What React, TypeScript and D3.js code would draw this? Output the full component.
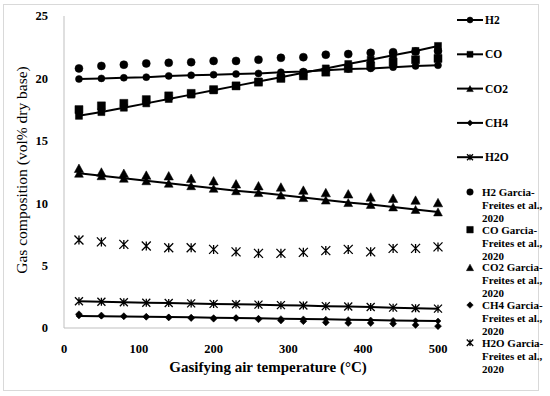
import React from 'react';
import * as d3 from 'd3';

// gasifying air temperature (°C)
const temps = [20, 50, 80, 110, 140, 170, 200, 230, 260, 290, 320, 350, 380, 410, 440, 470, 500];

// model curves (vol% dry base)
const h2Model = [19.95, 20.0, 20.05, 20.1, 20.2, 20.25, 20.3, 20.35, 20.4, 20.5, 20.55, 20.65, 20.75, 20.8, 20.9, 21.0, 21.05];
const coModel = [17.0, 17.3, 17.65, 18.0, 18.35, 18.7, 19.05, 19.4, 19.75, 20.1, 20.45, 20.8, 21.15, 21.5, 21.85, 22.2, 22.6];
const co2Model = [12.4, 12.2, 12.0, 11.8, 11.6, 11.4, 11.2, 11.0, 10.85, 10.65, 10.45, 10.25, 10.05, 9.9, 9.7, 9.5, 9.3];
const ch4Model = [0.97, 0.95, 0.93, 0.9, 0.88, 0.86, 0.83, 0.8, 0.78, 0.75, 0.73, 0.7, 0.67, 0.64, 0.61, 0.58, 0.56];
const h2oModel = [2.15, 2.1, 2.07, 2.03, 2.0, 1.97, 1.93, 1.9, 1.87, 1.83, 1.8, 1.75, 1.72, 1.68, 1.63, 1.58, 1.55];

// Garcia-Freites et al., 2020
const h2Ref = [20.8, 21.0, 21.1, 21.2, 21.25, 21.3, 21.4, 21.4, 21.5, 21.65, 21.7, 21.9, 21.95, 22.05, 22.1, 22.15, 22.2];
const coRef = [17.5, 17.8, 18.0, 18.3, 18.6, 18.8, 19.1, 19.4, 19.7, 20.0, 20.2, 20.5, 20.8, 21.0, 21.3, 21.5, 21.6];
const co2Ref = [12.8, 12.5, 12.4, 12.25, 12.2, 12.0, 11.8, 11.55, 11.4, 11.3, 11.05, 10.85, 10.75, 10.5, 10.4, 10.25, 10.05];
const ch4Ref = [1.1, 1.0, 0.95, 0.9, 0.85, 0.8, 0.75, 0.8, 0.7, 0.6, 0.55, 0.45, 0.4, 0.4, 0.35, 0.25, 0.15];
const h2oRef = [7.05, 6.9, 6.7, 6.57, 6.43, 6.43, 6.3, 6.1, 5.98, 5.98, 6.06, 6.2, 6.3, 6.1, 6.38, 6.38, 6.5];

const seriesNames = ['H2', 'CO', 'CO2', 'CH4', 'H2O'];
const markerKinds = ['circle', 'square', 'triangle', 'diamond', 'star'];
const xTicks = [0, 100, 200, 300, 400, 500];
const yTicks = [0, 5, 10, 15, 20, 25];

const models = [h2Model, coModel, co2Model, ch4Model, h2oModel];
const refs = [h2Ref, coRef, co2Ref, ch4Ref, h2oRef];

const W = 550;
const H = 396;
const x = d3.scaleLinear().domain([0, 500]).range([64, 438]);
const y = d3.scaleLinear().domain([0, 25]).range([328, 16]);

const font = '"Liberation Serif", "Times New Roman", serif';

function markerPath(kind: string, s: number) {
  const h = s / 2;
  if (kind === 'circle') return d3.symbol(d3.symbolCircle, Math.PI * h * h)() as string;
  if (kind === 'square') return `M${-h},${-h}H${h}V${h}H${-h}Z`;
  if (kind === 'triangle') return `M0,${-h}L${h * 1.1},${h}L${-h * 1.1},${h}Z`;
  if (kind === 'diamond') return `M0,${-h}L${h},0L0,${h}L${-h},0Z`;
  // excel star: X plus vertical bar
  return `M${-h},${-h}L${h},${h}M${-h},${h}L${h},${-h}M0,${-h}L0,${h}`;
}

function Marker({ kind, cx, cy, s }: { kind: string; cx: number; cy: number; s: number }) {
  const isStar = kind === 'star';
  return (
    <path
      d={markerPath(kind, s)}
      transform={`translate(${cx},${cy})`}
      fill={isStar ? 'none' : '#000'}
      stroke="#000"
      strokeWidth={isStar ? 1.3 : 0.5}
    />
  );
}

const line = d3.line<number>().x((_, i) => x(temps[i])).y((d) => y(d));

const modelSize = [7, 7, 8, 6, 8];
const refSize = [8, 8, 8.5, 7, 9];

export default function App() {
  return (
    <div style={{ position: 'absolute', left: 0, top: 0 }}>
      <svg width={W} height={H} style={{ display: 'block', background: '#fff' }}>
        <rect x={3.5} y={4.5} width={535} height={386} fill="#fff" stroke="#d9d9d9" />
        {/* axes */}
        <line x1={x(0)} x2={x(0)} y1={y(0)} y2={y(25)} stroke="#bfbfbf" />
        <line x1={x(0)} x2={x(500)} y1={y(0)} y2={y(0)} stroke="#bfbfbf" />
        {yTicks.map((t) => (
          <text key={t} x={48} y={y(t)} dy="0.35em" textAnchor="end" fontFamily={font} fontWeight="bold" fontSize={12.5}>
            {t}
          </text>
        ))}
        {xTicks.map((t) => (
          <text key={t} x={x(t)} y={349} dy="0.35em" textAnchor="middle" fontFamily={font} fontWeight="bold" fontSize={12.5}>
            {t}
          </text>
        ))}
        <text x={268} y={367} dy="0.35em" textAnchor="middle" fontFamily={font} fontWeight="bold" fontSize={15}>
          Gasifying air temperature (°C)
        </text>
        <text transform={`translate(22,${170}) rotate(-90)`} dy="0.35em" textAnchor="middle" fontFamily={font} fontSize={15.5}>
          Gas composition (vol% dry base)
        </text>

        {/* reference data */}
        {refs.map((vals, si) =>
          vals.map((v, i) => (
            <Marker key={`r${si}-${i}`} kind={markerKinds[si]} cx={x(temps[i])} cy={y(v)} s={refSize[si]} />
          ))
        )}
        {/* model curves */}
        {models.map((vals, si) => (
          <g key={`m${si}`}>
            <path d={line(vals) as string} fill="none" stroke="#000" strokeWidth={2} />
            {vals.map((v, i) => (
              <Marker key={i} kind={markerKinds[si]} cx={x(temps[i])} cy={y(v)} s={modelSize[si]} />
            ))}
          </g>
        ))}

        {/* legend */}
        {seriesNames.map((n, i) => {
          const ly = 20 + i * 34.3;
          return (
            <g key={`lm${i}`}>
              <line x1={457} x2={483} y1={ly} y2={ly} stroke="#000" strokeWidth={2} />
              <Marker kind={markerKinds[i]} cx={470} cy={ly} s={6} />
              <text x={485} y={ly} dy="0.35em" fontFamily={font} fontWeight="bold" fontSize={11.5}>
                {n}
              </text>
            </g>
          );
        })}
        {seriesNames.map((n, i) => {
          const ly = 192 + i * 37.7;
          return (
            <g key={`lr${i}`}>
              <Marker kind={markerKinds[i]} cx={470} cy={ly} s={6.5} />
              {[`${n} Garcia-`, 'Freites et al.,', '2020'].map((t, k) => (
                <text key={k} x={482} y={ly + k * 13} dy="0.35em" fontFamily={font} fontWeight="bold" fontSize={11}>
                  {t}
                </text>
              ))}
            </g>
          );
        })}
      </svg>
    </div>
  );
}
